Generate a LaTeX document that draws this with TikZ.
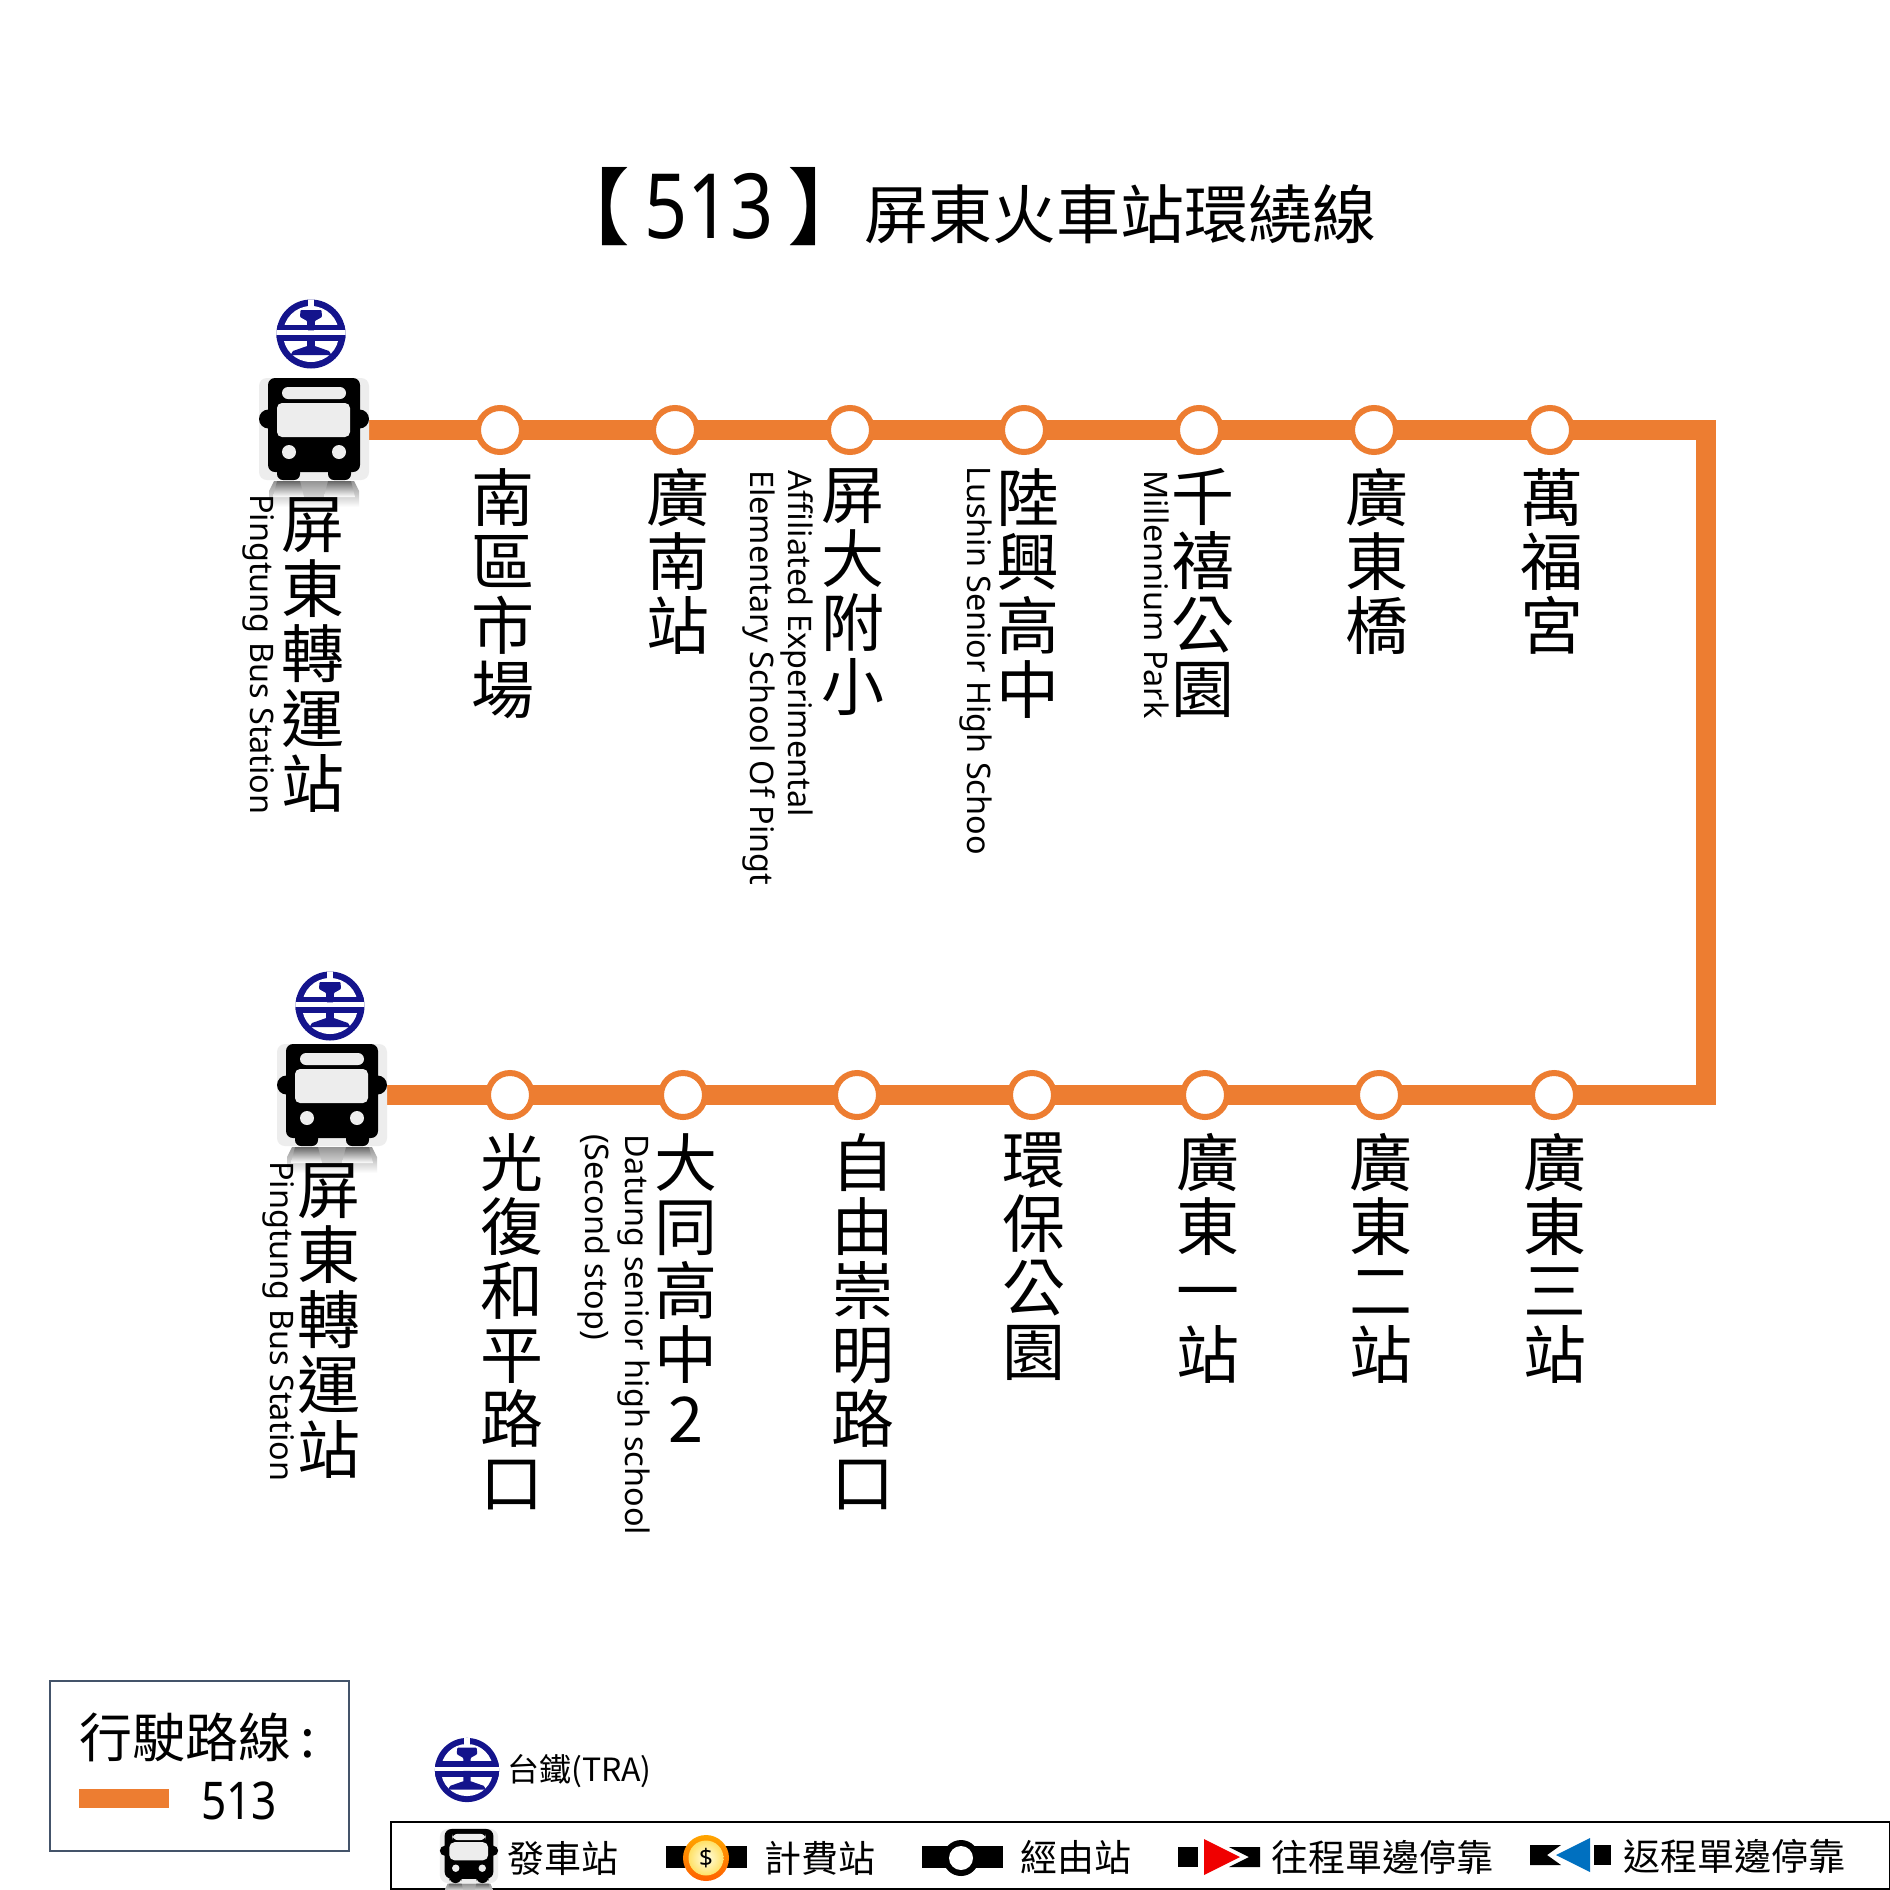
\documentclass[tikz,border=0pt]{standalone}
\usepackage{fontspec}
\usepackage{graphicx}
\usetikzlibrary{backgrounds}
\newfontfamily\cjkfont{Noto Sans CJK TC}
\newfontfamily\latinfont{Noto Sans}
\setmainfont{Noto Sans CJK TC}
\definecolor{routeorange}{HTML}{ED7D31}
\definecolor{tranavy}{HTML}{14148C}
\definecolor{iconbg}{HTML}{EDEDED}
\definecolor{slateline}{HTML}{44546A}
\definecolor{uptri}{HTML}{F00000}
\definecolor{downtri}{HTML}{0070C0}
\tikzset{
  stop/.style={circle,draw=routeorange,fill=white,line width=6pt,minimum size=44pt,inner sep=0pt,outer sep=0pt},
  route/.style={draw=routeorange,line width=20pt,line join=miter},
  zh/.style={font=\fontsize{63}{64}\selectfont\cjkfont,align=center,anchor=north,inner sep=0pt},
  zhbus/.style={font=\fontsize{63}{65}\selectfont\cjkfont,align=center,anchor=north,inner sep=0pt},
  en/.style={font=\fontsize{32.4}{32.4}\selectfont\latinfont,rotate=-90,anchor=base west,inner sep=0pt},
  legendtext/.style={font=\fontsize{37}{37}\selectfont\cjkfont,anchor=west,inner sep=0pt},
  busspot/.style={minimum width=110pt,minimum height=102pt,inner sep=0pt,outer sep=0pt},
  busicon/.pic={
    \shade[top color=black!42,bottom color=white] (-40,52) -- (40,52) -- (45,62) -- (45,78) -- (-45,78) -- (-45,62) -- cycle;
    \shade[top color=black!60,bottom color=white] (-37,52) -- (-14,52) -- (-10,68) -- (-41,68) -- cycle;
    \shade[top color=black!60,bottom color=white] (37,52) -- (14,52) -- (10,68) -- (41,68) -- cycle;
    \fill[iconbg,rounded corners=8pt] (-55,-51) rectangle (55,51);
    \fill[black] (-45.5,-10) ellipse [x radius=9.5pt,y radius=9.5pt];
    \fill[black] (45.5,-10) ellipse [x radius=9.5pt,y radius=9.5pt];
    \fill[black,rounded corners=6pt] (-37,36) rectangle (-14,51);
    \fill[black,rounded corners=6pt] (37,36) rectangle (14,51);
    \fill[black,rounded corners=7pt] (-46,-51) rectangle (46,43);
    \fill[iconbg,rounded corners=6pt] (-32,-42) rectangle (32,-30);
    \fill[iconbg,rounded corners=5pt] (-37,-26) rectangle (36,8);
    \fill[iconbg] (-25,23) circle [radius=7pt];
    \fill[iconbg] (25,23) circle [radius=7pt];
  },
  tralogo/.pic={
    \fill[tranavy] (0,0) circle [radius=34.5pt];
    \fill[white] (0,0) circle [radius=28pt];
    \begin{scope}
      \clip (0,0) circle [radius=34.5pt];
      \fill[tranavy] (-35,-9.5) rectangle (35,-3.7);
      \fill[tranavy] (-35,1) rectangle (35,7);
      \fill[white] (-36,-3.7) rectangle (36,1);
      \fill[white] (-3,-36) rectangle (3,-26);
    \end{scope}
    \fill[tranavy,rounded corners=1pt] (-10.5,-24) -- (10.5,-24) -- (11,-17) -- (3.8,-13) -- (3.8,-3.7) -- (-3.8,-3.7) -- (-3.8,-13) -- (-11,-17) -- cycle;
    \fill[tranavy] (-3.8,1) -- (3.8,1) -- (3.8,12) -- (18,17) -- (20.5,21) -- (-20.5,21) -- (-18,17) -- (-3.8,12) -- cycle;
  }
}
\begin{document}
\begin{tikzpicture}[x=1pt,y=-1pt]
\useasboundingbox (0,0) rectangle (1890,1890);

% title
\node[anchor=base west,inner sep=0pt] (title) at (546,238) {\fontsize{84}{84}\selectfont\cjkfont 【\hspace{14pt}\scalebox{.84}[1]{\fontsize{90}{90}\selectfont\latinfont 513}\hspace{14pt}】\hspace{-7pt}\fontsize{64}{64}\selectfont 屏東火車站環繞線};

% top row
\node[busspot] (busA) at (314,430) {};
\pic at (314,429) {busicon};
\pic at (311,334) {tralogo};
\node[stop] (a1) at (500,430) {};
\node[stop] (a2) at (675,430) {};
\node[stop] (a3) at (850,430) {};
\node[stop] (a4) at (1024,430) {};
\node[stop] (a5) at (1199,430) {};
\node[stop] (a6) at (1374,430) {};
\node[stop] (a7) at (1550,430) {};
\coordinate (c1) at (1706,430);
\coordinate (c2) at (1706,1095);

% bottom row
\node[busspot] (busB) at (332,1095) {};
\pic at (332,1095) {busicon};
\pic at (330,1006) {tralogo};
\node[stop] (b1) at (510,1095) {};
\node[stop] (b2) at (683,1095) {};
\node[stop] (b3) at (857,1095) {};
\node[stop] (b4) at (1032,1095) {};
\node[stop] (b5) at (1205,1095) {};
\node[stop] (b6) at (1379,1095) {};
\node[stop] (b7) at (1554,1095) {};

\begin{scope}[on background layer]
  \fill[white] (0,0) rectangle (1890,1890);
  \draw[route] (busA.east) -- (a1.center) -- (a2.center) -- (a3.center) -- (a4.center) -- (a5.center) -- (a6.center) -- (a7.center) -- (c1) -- (c2) -- (b7.center) -- (b6.center) -- (b5.center) -- (b4.center) -- (b3.center) -- (b2.center) -- (b1.center) -- (busB.east);
\end{scope}

% top labels
\node[zhbus] (za0) at (313,497) {屏\\東\\轉\\運\\站};
\node[en] (ea0) at (250,494) {Pingtung Bus Station};
\node[zh] (za1) at (503,468) {南\\區\\市\\場};
\node[zh] (za2) at (678,468) {廣\\南\\站};
\node[zh] (za3) at (853,468) {屏\\大\\附\\小};
\node[en] (ea3a) at (788,470) {Affiliated Experimental};
\node[en] (ea3b) at (750,470) {Elementary School Of Pingt};
\node[zh] (za4) at (1028,468) {陸\\興\\高\\中};
\node[en] (ea4) at (967,466) {Lushin Senior High Schoo};
\node[zh] (za5) at (1203,468) {千\\禧\\公\\園};
\node[en] (ea5) at (1144,470) {Millennium Park};
\node[zh] (za6) at (1377,468) {廣\\東\\橋};
\node[zh] (za7) at (1552,468) {萬\\福\\宮};

% bottom labels
\node[zhbus] (zb0) at (329,1163) {屏\\東\\轉\\運\\站};
\node[en] (eb0) at (270,1161) {Pingtung Bus Station};
\node[zh] (zb1) at (512,1133) {光\\復\\和\\平\\路\\口};
\node[zh] (zb2) at (686,1133) {大\\同\\高\\中\\2};
\node[en] (eb2a) at (625,1134) {Datung senior high school};
\node[en] (eb2b) at (585,1134) {(Second stop)};
\node[zh] (zb3) at (863,1133) {自\\由\\崇\\明\\路\\口};
\node[zh] (zb4) at (1034,1133) {環\\保\\公\\園};
\node[zh] (zb5) at (1208,1133) {廣\\東\\一\\站};
\node[zh] (zb6) at (1381,1133) {廣\\東\\二\\站};
\node[zh] (zb7) at (1555,1133) {廣\\東\\三\\站};

% route legend
\draw[slateline,line width=1.2pt] (50,1681) rectangle (349,1851);
\node[anchor=west,inner sep=0pt,font=\fontsize{53}{53}\selectfont\cjkfont] (legtitle) at (79,1737) {行駛路線\hspace{9pt}:};
\fill[routeorange] (79,1789) rectangle (169,1808);
\node[anchor=west,inner sep=0pt,font=\fontsize{52}{52}\selectfont\latinfont] (leg513) at (201,1801) {\scalebox{.85}[1]{513}};

% TRA key
\pic[scale=.93] at (467,1770) {tralogo};
\node[anchor=west,inner sep=0pt,font=\fontsize{32}{32}\selectfont\cjkfont] (legtra) at (507,1771) {台鐵(TRA)};

% icon key
\draw[black,line width=2pt] (391,1822) rectangle (1890,1889);
\pic[scale=.53] at (469,1856) {busicon};
\node[legendtext] (k1) at (507,1858) {發車站};
\fill[black] (666,1846) rectangle (747,1868);
\shade[top color=orange!70!yellow,bottom color=orange!75!red] (706,1858) circle [radius=23pt];
\shade[inner color=yellow!10,outer color=orange!40!yellow!60] (706,1858) circle [radius=17.5pt];
\node[inner sep=0pt,font=\fontsize{24}{24}\selectfont\latinfont\bfseries] (coin) at (706,1858) {\$};
\node[legendtext] (k2) at (764,1858) {計費站};
\fill[black] (922,1846) rectangle (1003,1868);
\fill[black] (961,1858) circle [radius=18pt];
\fill[white] (961,1858) circle [radius=12pt];
\node[legendtext] (k3) at (1020,1857) {經由站};
\fill[black] (1178,1847) rectangle (1198,1867);
\fill[black] (1229,1847) -- (1260,1847) -- (1260,1867) -- (1229,1867) -- (1249,1857) -- cycle;
\fill[uptri] (1204,1839) -- (1240,1857) -- (1204,1875) -- cycle;
\node[legendtext] (k4) at (1271,1858) {往程單邊停靠};
\fill[black] (1530,1845) -- (1561,1845) -- (1547,1855) -- (1561,1865) -- (1530,1865) -- cycle;
\fill[downtri] (1590,1838) -- (1556,1855) -- (1590,1872) -- cycle;
\fill[black] (1594,1845) rectangle (1611,1865);
\node[legendtext] (k5) at (1623,1857) {返程單邊停靠};
\end{tikzpicture}
\end{document}
